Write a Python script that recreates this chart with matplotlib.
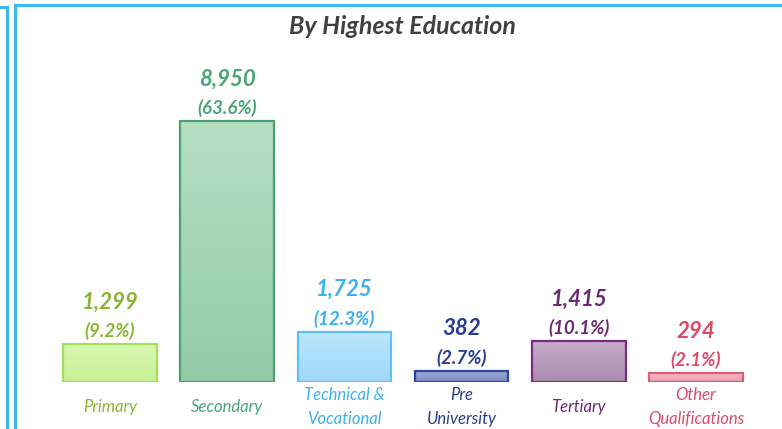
import matplotlib.pyplot as plt
import numpy as np
from matplotlib.colors import LinearSegmentedColormap, to_rgb
from matplotlib.lines import Line2D

categories = [
    "Primary",
    "Secondary",
    "Technical &\nVocational",
    "Pre\nUniversity",
    "Tertiary",
    "Other\nQualifications",
]
counts = [1299, 8950, 1725, 382, 1415, 294]
shares = [9.2, 63.6, 12.3, 2.7, 10.1, 2.1]

# gradient fill: top colour, bottom colour
top_colors = ["#d6f7b0", "#b4dfc3", "#bde6fc", "#a0acd6", "#c8aec9", "#f5b8c5"]
bottom_colors = ["#c6f196", "#95caa7", "#9fd8fa", "#7d8bc4", "#a98aaf", "#ee9bae"]
edge_colors = ["#a4e057", "#4aa06f", "#5ec0f4", "#2b48a0", "#7b2b80", "#e05b7b"]
text_colors = ["#8ab536", "#4aa578", "#3cb0f0", "#2a3c90", "#6c2a72", "#e04a6a"]

W, H = 782, 429
fig = plt.figure(figsize=(W / 100, H / 100), dpi=100)

# plot area: baseline 47 px above the bottom, tallest bar 261 px high
base_px = 47
ax = fig.add_axes([0, base_px / H, 1, (H - base_px) / H])
step = 117.2
ax.axis("off")

font = "Lato"
x = range(len(categories))
bars = ax.bar(
    x,
    counts,
    width=0.80,
    color="none",
    edgecolor=edge_colors,
    linewidth=1.6,
    zorder=3,
)

grad = np.linspace(0, 1, 64).reshape(-1, 1)
for i, patch in enumerate(bars):
    cmap = LinearSegmentedColormap.from_list(
        f"bar{i}", [to_rgb(bottom_colors[i]), to_rgb(top_colors[i])]
    )
    x0 = patch.get_x()
    img = ax.imshow(
        grad,
        cmap=cmap,
        origin="lower",
        aspect="auto",
        extent=(x0, x0 + patch.get_width(), 0, patch.get_height()),
        zorder=2,
    )
    img.set_clip_path(patch)

ax.set_xlim(-110 / step, (W - 110) / step)
ax.set_ylim(0, max(counts) * (H - base_px) / 261)

for i, (n, p) in enumerate(zip(counts, shares)):
    ax.annotate(
        f"({p:.1f}%)",
        (i, n),
        xytext=(0, 13),
        textcoords="offset pixels",
        ha="center",
        va="center",
        fontsize=13.5,
        fontstyle="italic",
        fontweight="bold",
        family=font,
        color=text_colors[i],
    )
    ax.annotate(
        f"{n:,}",
        (i, n),
        xytext=(0, 42),
        textcoords="offset pixels",
        ha="center",
        va="center",
        fontsize=16,
        fontstyle="italic",
        fontweight="bold",
        family=font,
        color=text_colors[i],
    )
    ax.annotate(
        categories[i],
        (i, 0),
        xytext=(0, -25),
        textcoords="offset pixels",
        ha="center",
        va="center",
        fontsize=12,
        fontstyle="italic",
        family=font,
        color=text_colors[i],
        linespacing=1.6,
    )

fig.text(
    402 / W,
    1 - 26 / H,
    "By Highest Education",
    ha="center",
    va="center",
    fontsize=18,
    fontstyle="italic",
    fontweight="bold",
    family=font,
    color="#404040",
)

# panel frames
frame = dict(color="#3cb8f0", linewidth=2.2, transform=fig.transFigure)
fig.add_artist(Line2D([0, 7 / W], [1 - 7 / H] * 2, **frame))
fig.add_artist(Line2D([7 / W] * 2, [1 - 7 / H, 0], **frame))
fig.add_artist(Line2D([15 / W, 1], [1 - 5 / H] * 2, **frame))
fig.add_artist(Line2D([15 / W] * 2, [1 - 5 / H, 0], **frame))

fig.savefig("out.png", dpi=100)
